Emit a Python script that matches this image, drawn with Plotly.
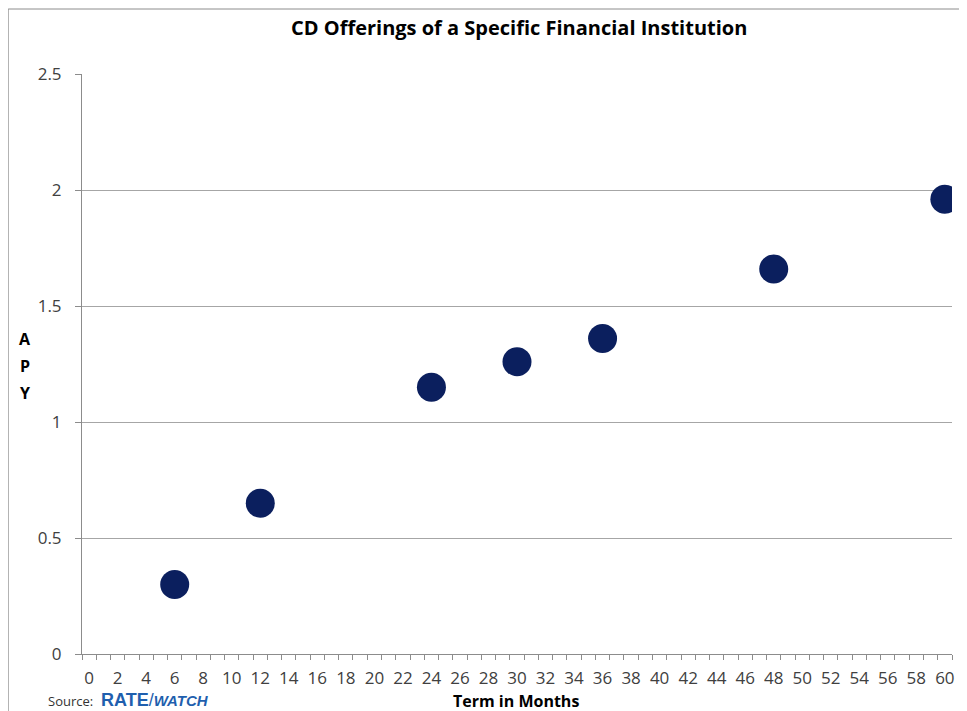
import plotly.graph_objects as go

# Data
term_months = [6, 12, 24, 30, 36, 48, 60]
apy = [0.30, 0.65, 1.15, 1.26, 1.36, 1.66, 1.96]
x_tick_vals = list(range(0, 61, 2))
x_tick_text = [str(v) for v in x_tick_vals]
y_tick_vals = [0, 0.5, 1, 1.5, 2, 2.5]
y_tick_text = ["0", "0.5", "1", "1.5", "2", "2.5"]
y_title_letters = ["A", "P", "Y"]

# page body has an 8px margin; compensate so plot lands at target pixels
OFF = 8
W, H = 967 - OFF, 711 - OFF
PL, PR, PT, PB = 82, 954, 74, 654   # target plot-area pixel edges in window
L, T = PL - OFF, PT - OFF
R = W - (PR - OFF)
B = H - (PB - OFF)
pw, ph = W - L - R, H - T - B

def px(x):
    return (x - PL) / pw

def py(y):
    return (PB - y) / ph

FONT = "Open Sans"
navy = "#0b1f5e"

fig = go.Figure()
fig.add_trace(go.Scatter(
    x=term_months, y=apy, mode="markers",
    marker=dict(size=29, color=navy, line=dict(width=0)),
    showlegend=False, hoverinfo="x+y",
))

annotations = [
    dict(text="<b>CD Offerings of a Specific Financial Institution</b>",
         xref="paper", yref="paper", x=px(520), y=py(28),
         xanchor="center", yanchor="middle", showarrow=False,
         font=dict(family=FONT, size=20, color="#000000")),
    dict(text="<b>Term in Months</b>",
         xref="paper", yref="paper", x=px(517), y=py(701),
         xanchor="center", yanchor="middle", showarrow=False,
         font=dict(family=FONT, size=16, color="#000000")),
    dict(text="Source:",
         xref="paper", yref="paper", x=px(46), y=py(701),
         xanchor="left", yanchor="middle", showarrow=False,
         font=dict(family=FONT, size=13, color="#333333")),
    dict(text="<b>RATE</b>/<b><i><span style='font-size:15px'>WATCH</span></i></b>",
         xref="paper", yref="paper", x=px(99), y=py(700),
         xanchor="left", yanchor="middle", showarrow=False,
         font=dict(family="Liberation Sans", size=18, color="#1f5fae")),
]
for i, letter in enumerate(y_title_letters):
    annotations.append(dict(
        text=f"<b>{letter}</b>", xref="paper", yref="paper",
        x=px(25), y=py(339 + 27 * i), xanchor="center", yanchor="middle",
        showarrow=False, font=dict(family=FONT, size=16, color="#000000")))

fig.update_layout(
    width=W, height=H,
    margin=dict(l=L, r=R, t=T, b=B),
    paper_bgcolor="white", plot_bgcolor="white",
    font=dict(family=FONT, size=17, color="#404040"),
    showlegend=False,
    xaxis=dict(
        range=[-0.5, 60.5], tickvals=x_tick_vals, ticktext=x_tick_text,
        ticks="", showgrid=False, zeroline=False,
        showline=True, linecolor="#8c8c8c", linewidth=1,
        ticklabelstandoff=9,
        tickfont=dict(family=FONT, size=17, color="#404040"),
        minor=dict(tickvals=[i - 0.5 for i in range(0, 62)], ticks="outside",
                   ticklen=5, tickcolor="#8c8c8c", tickwidth=1, showgrid=False),
        fixedrange=True,
    ),
    yaxis=dict(
        range=[0, 2.5], tickvals=y_tick_vals, ticktext=y_tick_text,
        ticks="outside", ticklen=6, tickcolor="#8c8c8c",
        showgrid=True, gridcolor="#a6a6a6", gridwidth=1, zeroline=False,
        showline=True, linecolor="#8c8c8c", linewidth=1,
        ticklabelstandoff=10,
        tickfont=dict(family=FONT, size=17, color="#404040"),
        fixedrange=True,
    ),
    shapes=[
        dict(type="rect", xref="paper", yref="paper",
             x0=px(8), x1=px(967 + 20), y0=py(711 + 20), y1=py(9),
             line=dict(color="#8c8c8c", width=1), fillcolor="rgba(0,0,0,0)",
             layer="below"),
    ],
    annotations=annotations,
)

fig.write_html("out.html")
